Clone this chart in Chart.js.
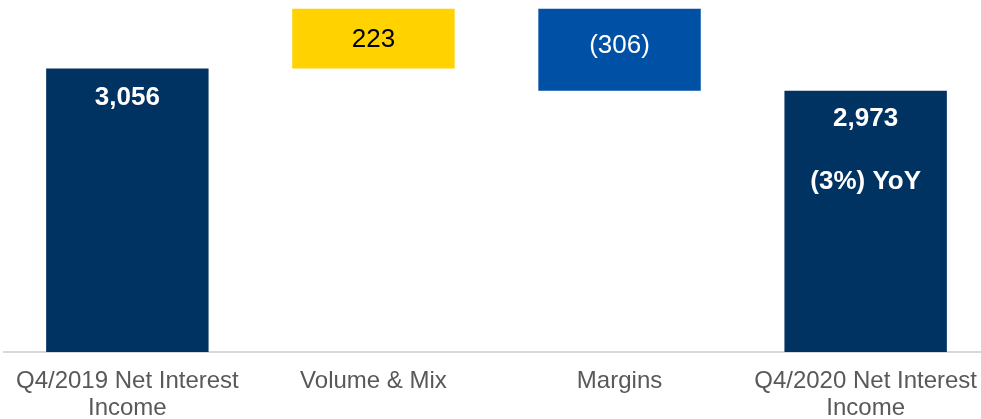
<!DOCTYPE html>
<html>
<head>
<meta charset="utf-8">
<script src="https://cdn.jsdelivr.net/npm/chart.js@4"></script>
<style>
  html, body { margin: 0; padding: 0; background: #fff; overflow: hidden; }
  #wrap { position: relative; width: 993px; height: 440px; }
</style>
</head>
<body>
<div id="wrap"><canvas id="chart"></canvas></div>
<script>
// Net interest income bridge, Q4/2019 -> Q4/2020
const categories = [['Q4/2019 Net Interest', 'Income'], 'Volume & Mix', 'Margins', ['Q4/2020 Net Interest', 'Income']];
const steps      = [3056, 223, -306, 2973];   // totals at ends, deltas in between
const isTotal    = [true, false, false, true];
const valueText  = ['3,056', '223', '(306)', '2,973'];
const noteText   = ['', '', '', '(3%) YoY'];
const AXIS_MIN = 2000, AXIS_MAX = 3300;

const NAVY = '#003262', YELLOW = '#FFD200', BLUE = '#0051A5';
const barColors  = ['#003262', '#FFD200', '#0051A5', '#003262'];
const textColors = ['#fff', '#000', '#fff', '#fff'];
const textBold   = [true, false, false, true];

// build floating ranges for the waterfall
let running = 0;
const ranges = steps.map((v, i) => {
  if (isTotal[i]) { running = v; return [AXIS_MIN, v]; }
  const from = running;
  running += v;
  return [Math.min(from, running), Math.max(from, running)];
});

const labelPlugin = {
  id: 'barLabels',
  afterDatasetsDraw(chart) {
    const { ctx } = chart;
    const meta = chart.getDatasetMeta(0);
    const offsets = [29, 31, 37, 28];
    ctx.save();
    ctx.textAlign = 'center';
    ctx.textBaseline = 'middle';
    meta.data.forEach((bar, i) => {
      const top = Math.min(bar.y, bar.base);
      ctx.fillStyle = textColors[i];
      ctx.font = (textBold[i] ? 'bold ' : '') + '26px "Liberation Sans", Arial, sans-serif';
      ctx.fillText(valueText[i], bar.x, top + offsets[i]);
      if (noteText[i]) ctx.fillText(noteText[i], bar.x, top + 91);
    });
    ctx.restore();
  }
};

new Chart(document.getElementById('chart'), {
  type: 'bar',
  data: {
    labels: categories,
    datasets: [{
      data: ranges,
      backgroundColor: barColors,
      borderWidth: 0,
      borderSkipped: false,
      categoryPercentage: 1,
      barPercentage: 0.66,
    }]
  },
  options: {
    animation: false, responsive: true, maintainAspectRatio: false,
    layout: { padding: { top: 3, left: 2, right: 2, bottom: 0 } },
    plugins: { legend: { display: false }, tooltip: { enabled: false } },
    scales: {
      x: {
        grid: { display: false, drawTicks: false },
        border: { display: true, color: '#d9d9d9', width: 2 },
        ticks: {
          color: '#595959', padding: 16, maxRotation: 0, autoSkip: false,
          font: { family: '"Liberation Sans", Arial, sans-serif', size: 24, lineHeight: 1.13 },
        },
        afterFit: (scale) => { scale.height = 440 - 352; },
      },
      y: { display: false, min: AXIS_MIN, max: AXIS_MAX },
    },
  },
  plugins: [labelPlugin],
});
</script>
</body>
</html>
